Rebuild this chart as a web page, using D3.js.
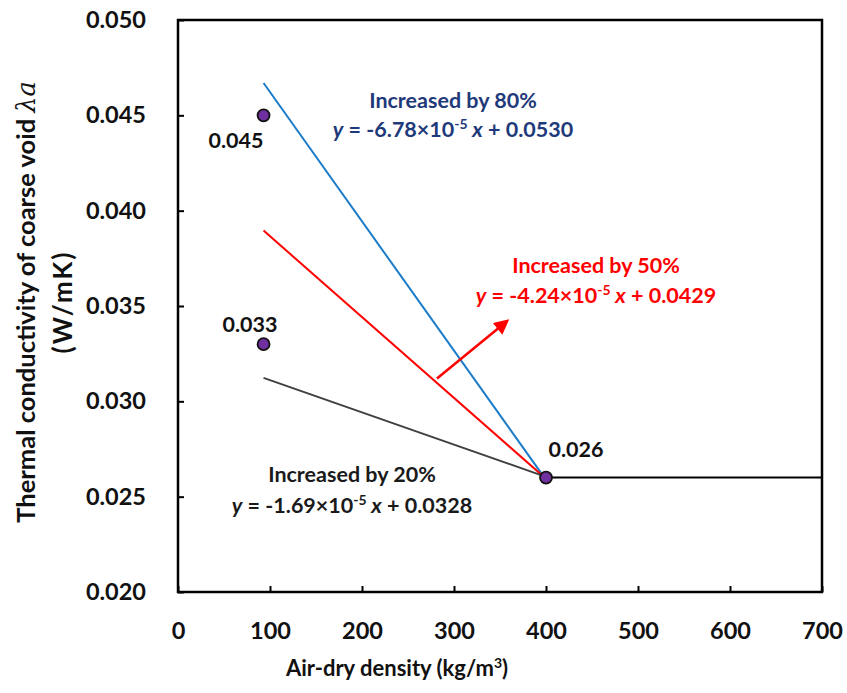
<!DOCTYPE html>
<html lang="en">
<head>
  <meta charset="UTF-8">
  <title>Thermal conductivity of coarse void</title>
  <script src="https://d3js.org/d3.v7.min.js"></script>
  <style>
    body {
      margin: 0;
      padding: 0;
      background: #fff;
    }
    svg text {
      font-family: Lato, "Open Sans", sans-serif;
      font-weight: bold;
    }
  </style>
</head>
<body>
  <div id="chart"></div>

  <script>
  // data
  const xTicks = [0, 100, 200, 300, 400, 500, 600, 700];
  const yTicks = [0.020, 0.025, 0.030, 0.035, 0.040, 0.045, 0.050];

  const pointX = [93, 93, 400];
  const pointY = [0.045, 0.033, 0.026];
  const pointLabels = ["0.045", "0.033", "0.026"];

  // fitted lines: slope, intercept, from x to x
  const lineNames = ["80%", "50%", "20%"];
  const lineSlopes = [-6.78e-5, -4.24e-5, -1.69e-5];
  const lineIntercepts = [0.0530, 0.0429, 0.0328];
  const lineColors = ["#1a7bc9", "#ff0000", "#404040"];
  const lineFrom = 93, lineTo = 400;

  // flat line beyond 400
  const flatX = [400, 700];
  const flatY = [0.026, 0.026];

  // red arrow, in data units
  const arrowX = [281.5, 357.5];
  const arrowY = [0.0312, 0.0342];

  const width = 847, height = 693;
  const margin = {top: 20, right: 25, bottom: 101, left: 178};

  const svg = d3.select("#chart").append("svg")
    .attr("width", width)
    .attr("height", height);

  const x = d3.scaleLinear().domain([0, 700]).range([margin.left, width - margin.right]);
  const y = d3.scaleLinear().domain([0.020, 0.050]).range([height - margin.bottom, margin.top]);

  // axes frame
  svg.append("rect")
    .attr("x", x(0)).attr("y", y(0.050))
    .attr("width", x(700) - x(0)).attr("height", y(0.020) - y(0.050))
    .attr("fill", "none").attr("stroke", "#000").attr("stroke-width", 2.5);

  // ticks pointing inward
  svg.append("g")
    .attr("transform", `translate(0,${y(0.020)})`)
    .call(d3.axisBottom(x).tickValues(xTicks).tickSizeInner(-6).tickSizeOuter(0).tickPadding(30).tickFormat(d3.format("d")))
    .call(g => g.select(".domain").remove())
    .call(g => g.selectAll("line").attr("stroke-width", 2))
    .call(g => g.selectAll("text").attr("font-size", 23.5).attr("fill", "#111")
      .attr("font-family", "Lato, sans-serif").attr("font-weight", "bold"));

  svg.append("g")
    .attr("transform", `translate(${x(0)},0)`)
    .call(d3.axisLeft(y).tickValues(yTicks).tickSizeInner(-6).tickSizeOuter(0).tickPadding(32).tickFormat(d3.format(".3f")))
    .call(g => g.select(".domain").remove())
    .call(g => g.selectAll("line").attr("stroke-width", 2))
    .call(g => g.selectAll("text").attr("font-size", 23.5).attr("fill", "#111")
      .attr("font-family", "Lato, sans-serif").attr("font-weight", "bold"));

  // fitted lines
  lineSlopes.forEach((s, i) => {
    svg.append("line")
      .attr("x1", x(lineFrom)).attr("y1", y(s * lineFrom + lineIntercepts[i]))
      .attr("x2", x(lineTo)).attr("y2", y(s * lineTo + lineIntercepts[i]))
      .attr("stroke", lineColors[i]).attr("stroke-width", 2);
  });

  svg.append("line")
    .attr("x1", x(flatX[0])).attr("y1", y(flatY[0]))
    .attr("x2", x(flatX[1])).attr("y2", y(flatY[1]))
    .attr("stroke", "#000").attr("stroke-width", 2);

  svg.append("defs").append("marker")
    .attr("id", "arrow")
    .attr("viewBox", "0 0 10 10")
    .attr("refX", 8).attr("refY", 5)
    .attr("markerWidth", 7).attr("markerHeight", 6)
    .attr("orient", "auto")
    .append("path").attr("d", "M0,0L10,5L0,10z").attr("fill", "#ff0000");

  svg.append("line")
    .attr("x1", x(arrowX[0])).attr("y1", y(arrowY[0]))
    .attr("x2", x(arrowX[1])).attr("y2", y(arrowY[1]))
    .attr("stroke", "#ff0000").attr("stroke-width", 2.5)
    .attr("marker-end", "url(#arrow)");

  // points
  svg.selectAll(".pt")
    .data(pointX)
    .enter().append("circle")
    .attr("class", "pt")
    .attr("cx", d => x(d))
    .attr("cy", (d, i) => y(pointY[i]))
    .attr("r", 6)
    .attr("fill", "#7030a0")
    .attr("stroke", "#111")
    .attr("stroke-width", 1.8);

  const labelPos = [[236, 148], [250, 332], [576, 457]];
  svg.selectAll(".plabel")
    .data(pointLabels)
    .enter().append("text")
    .attr("class", "plabel")
    .attr("x", (d, i) => labelPos[i][0])
    .attr("y", (d, i) => labelPos[i][1])
    .attr("text-anchor", "middle")
    .attr("font-size", 21.5)
    .attr("fill", "#111")
    .text(d => d);

  // equation annotations
  function equation(cx, cy, color, title, coef, icpt, gap) {
    const g = svg.append("g").attr("fill", color);
    g.append("text").attr("x", cx).attr("y", cy).attr("text-anchor", "middle")
      .attr("font-size", 21.5).text(title);
    const t = g.append("text").attr("x", cx).attr("y", cy + gap).attr("text-anchor", "middle")
      .attr("font-size", 21.5);
    t.append("tspan").attr("font-style", "italic").text("y");
    t.append("tspan").text(" = " + coef + "\u00d710");
    t.append("tspan").attr("font-size", 14).attr("dy", -8).text("-5");
    t.append("tspan").attr("dy", 8).attr("font-style", "italic").text(" x");
    t.append("tspan").text(" + " + icpt);
  }
  equation(453, 108, "#1f3a7a", "Increased by 80%", "-6.78", "0.0530", 29);
  equation(596, 273, "#ff0000", "Increased by 50%", "-4.24", "0.0429", 30);
  equation(352, 482, "#1a1a1a", "Increased by 20%", "-1.69", "0.0328", 31);

  // axis titles
  const xt = svg.append("text")
    .attr("x", 397).attr("y", 676)
    .attr("text-anchor", "middle")
    .attr("font-size", 22)
    .attr("fill", "#111");
  xt.append("tspan").text("Air-dry density (kg/m");
  xt.append("tspan").attr("font-size", 14).attr("dy", -8).text("3");
  xt.append("tspan").attr("dy", 8).text(")");

  const yt = svg.append("text")
    .attr("transform", "translate(35,302) rotate(-90)")
    .attr("text-anchor", "middle")
    .attr("font-size", 25.5)
    .attr("fill", "#111");
  yt.append("tspan").text("Thermal conductivity of  coarse void ");
  yt.append("tspan").attr("font-family", "DejaVu Serif, serif").attr("font-style", "italic")
    .attr("font-weight", "normal").text("\u03bba");

  svg.append("text")
    .attr("transform", "translate(72,302) rotate(-90)")
    .attr("text-anchor", "middle")
    .attr("font-size", 26)
    .attr("letter-spacing", 2)
    .attr("fill", "#111")
    .text("(W/mK)");
  </script>
</body>
</html>
